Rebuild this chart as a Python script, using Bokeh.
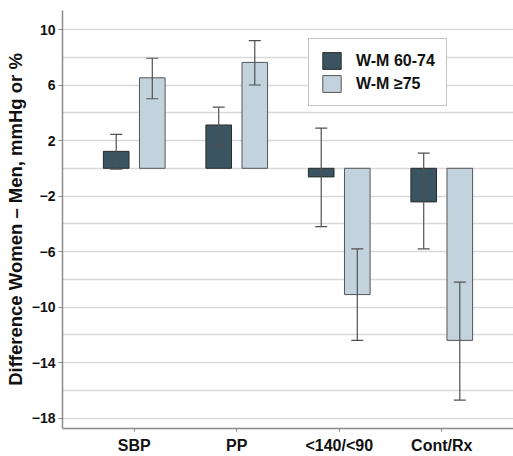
from bokeh.plotting import figure
from bokeh.models import (ColumnDataSource, FactorRange, Range1d, FixedTicker, Whisker,
                          TeeHead, Legend, LegendItem)
from bokeh.transform import dodge
from bokeh.embed import file_html
from bokeh.resources import INLINE

categories = ["SBP", "PP", "<140/<90", "Cont/Rx"]
series_names = ["W-M 60-74", "W-M \u226575"]
dark_vals = [1.22, 3.12, -0.62, -2.42]
dark_lo = [-0.07, 1.63, -4.2, -5.8]
dark_hi = [2.45, 4.41, 2.9, 1.1]
light_vals = [6.52, 7.63, -9.1, -12.4]
light_lo = [5.01, 6.0, -12.4, -16.7]
light_hi = [7.93, 9.2, -5.8, -8.2]
y_tick_labels = [10, 6, 2, -2, -6, -10, -14, -18]
y_grid_lines = [10, 8, 6, 4, 2, 0, -2, -4, -6, -8, -10, -12, -14, -16, -18]

DARK = "#3a5561"
LIGHT = "#c3d3de"
FONT = "Liberation Sans"

src = ColumnDataSource(data=dict(cat=categories,
                                 dark=dark_vals, dlo=dark_lo, dhi=dark_hi,
                                 light=light_vals, llo=light_lo, lhi=light_hi))

p = figure(width=513, height=456, output_backend="svg", toolbar_location=None,
           x_range=FactorRange(*categories, range_padding=0.2, range_padding_units="absolute"),
           y_range=Range1d(-18.75, 11.37))
p.min_border_left = 62
p.min_border_right = 0
p.min_border_top = 10
p.min_border_bottom = 0
p.outline_line_color = None
p.background_fill_color = "white"
p.border_fill_color = "white"

off = 0.176
w = 0.25
r1 = p.vbar(x=dodge("cat", -off, range=p.x_range), top="dark", bottom=0, width=w, source=src,
            fill_color=DARK, line_color="#2a2a2a", line_width=1)
r2 = p.vbar(x=dodge("cat", off, range=p.x_range), top="light", bottom=0, width=w, source=src,
            fill_color=LIGHT, line_color="#555555", line_width=1)

for key, lo, hi in [(-off, "dlo", "dhi"), (off, "llo", "lhi")]:
    wh = Whisker(base=dodge("cat", key, range=p.x_range), lower=lo, upper=hi, source=src,
                 line_color="#505050", line_width=1.2, level="overlay",
                 upper_head=TeeHead(size=12, line_color="#505050", line_width=1.2),
                 lower_head=TeeHead(size=12, line_color="#505050", line_width=1.2))
    p.add_layout(wh)

# axes
p.yaxis.ticker = FixedTicker(ticks=y_tick_labels)
p.ygrid.ticker = FixedTicker(ticks=y_grid_lines)
p.ygrid.grid_line_color = "#d9d9d9"
p.ygrid.grid_line_width = 1.5
p.xgrid.grid_line_color = None

p.yaxis.axis_label = "Difference Women \u2013 Men, mmHg or %"
p.yaxis.axis_label_text_font = FONT
p.yaxis.axis_label_text_font_style = "bold"
p.yaxis.axis_label_text_font_size = "18.5px"
p.yaxis.axis_label_text_color = "#111111"
p.yaxis.axis_label_standoff = 3
p.yaxis.major_label_text_font = FONT
p.yaxis.major_label_text_font_style = "bold"
p.yaxis.major_label_text_font_size = "14px"
p.yaxis.major_label_text_color = "#111111"
p.yaxis.major_label_standoff = 3
p.yaxis.major_tick_out = 4
p.yaxis.major_tick_in = 0
p.yaxis.minor_tick_out = 0
p.yaxis.minor_tick_in = 0

p.xaxis.major_label_text_font = FONT
p.xaxis.major_label_text_font_style = "bold"
p.xaxis.major_label_text_font_size = "16px"
p.xaxis.major_label_text_color = "#111111"
p.xaxis.major_label_standoff = 5
p.xaxis.major_tick_out = 3
p.xaxis.major_tick_in = 0

for ax in (p.xaxis, p.yaxis):
    ax.axis_line_color = "#8a8a8a"
    ax.axis_line_width = 1.5
    ax.major_tick_line_color = "#8a8a8a"

legend = Legend(items=[LegendItem(label=series_names[0], renderers=[r1]),
                       LegendItem(label=series_names[1], renderers=[r2])],
                location=(246, 322))
legend.label_text_font = FONT
legend.label_text_font_style = "bold"
legend.label_text_font_size = "16px"
legend.label_text_color = "#111111"
legend.glyph_width = 23
legend.glyph_height = 21
legend.label_height = 21
legend.label_standoff = 13
legend.spacing = 2
legend.padding = 11
legend.margin = 0
legend.border_line_color = "#8a8a8a"
legend.border_line_width = 1.5
legend.background_fill_color = "white"
legend.background_fill_alpha = 1
p.add_layout(legend, "center")

open("out.html", "w").write(file_html(p, INLINE))
